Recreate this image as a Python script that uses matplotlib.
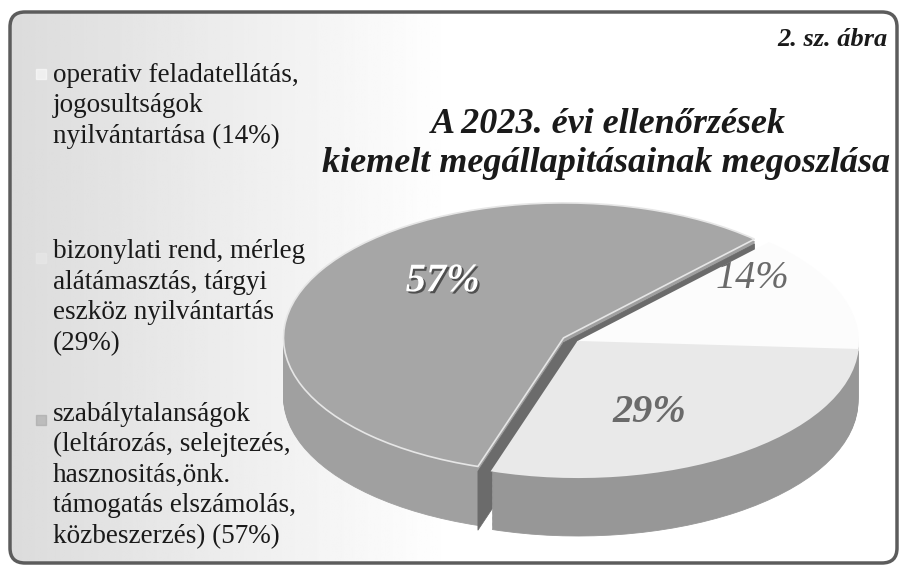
import numpy as np
import matplotlib.pyplot as plt
from matplotlib.patches import FancyBboxPatch, Polygon
from matplotlib import patheffects as pe

plt.rcParams['font.family'] = ['Liberation Serif', 'DejaVu Serif']

# adatok
kategoriak = [
    "operativ feladatellátás,\njogosultságok\nnyilvántartása (14%)",
    "bizonylati rend, mérleg\nalátámasztás, tárgyi\neszköz nyilvántartás\n(29%)",
    "szabálytalanságok\n(leltározás, selejtezés,\nhasznositás,önk.\ntámogatás elszámolás,\nközbeszerzés) (57%)",
]
aranyok = [14, 29, 57]
feliratok = ["14%", "29%", "57%"]
cim1 = "A 2023. évi ellenőrzések"
cim2 = "kiemelt megállapitásainak megoszlása"
abra = "2. sz. ábra"

teteje = ["#fcfcfc", "#e9e9e9", "#a6a6a6"]
oldala = ["#9c9c9c", "#979797", "#a0a0a0"]
kiemeles = [0, 0, 0.06]

W, H = 903, 570
fig = plt.figure(figsize=(W / 100, H / 100), dpi=100)

# hatter + keret (pixel koordinatak)
bg = fig.add_axes([0, 0, 1, 1])
bg.set_xlim(0, W)
bg.set_ylim(H, 0)
bg.axis('off')
keret = FancyBboxPatch((10, 12), 887, 551, boxstyle="round,pad=0,rounding_size=15",
                       fc='none', ec='#5c5c5c', lw=2.5, zorder=5)
bg.add_patch(keret)
g = np.clip(np.linspace(0, 1, 400) / 0.5, 0, 1)
im = bg.imshow(np.tile(0.86 + 0.14 * g, (2, 1)), cmap='gray', vmin=0, vmax=1,
               extent=(10, 897, 563, 12), aspect='auto', zorder=0)
im.set_clip_path(keret)

# jelmagyarazat
for i, (szoveg, y_alap, y_jel) in enumerate(zip(kategoriak, [143, 350, 543], [74, 258, 420])):
    bg.text(53, y_alap, szoveg, fontsize=19.5, va='baseline', ha='left',
            linespacing=1.29, color='#1a1a1a', zorder=6)
    bg.scatter([41], [y_jel], marker='s', s=45, color=teteje[i], alpha=0.6, zorder=6)

# 3D kordiagram
ax = fig.add_axes([0, 0, 1, 1])
ax.patch.set_alpha(0)
cx, cy = 578, 342
a, b = 280, 135
vastag = 59 / b
kezdo = 47
retegek = np.linspace(-vastag, 0, 50)[:-2]


def kor(z, szinek, mutat, el=None, lw=0.6):
    w, _ = ax.pie(aranyok, explode=kiemeles, colors=szinek, startangle=kezdo,
                  counterclock=False, center=(0, z), labeldistance=None,
                  wedgeprops=dict(linewidth=lw))
    for i, ek in enumerate(w):
        ek.set_visible(i in mutat)
        ek.set_edgecolor(el if el else ek.get_facecolor())
    return w


# 57% szelet
for z in retegek:
    w = kor(z, oldala, [2])
ek = w[2]
c = np.array(ek.center) + [0, retegek[-1]]
for th in (ek.theta1, ek.theta2):
    p = c + ek.r * np.array([np.cos(np.radians(th)), np.sin(np.radians(th))])
    ax.add_patch(Polygon([c, p, p - [0, vastag], c - [0, vastag]], closed=True,
                         fc='#6b6b6b', ec='#6b6b6b', lw=0.5))
teto57 = kor(0, teteje, [2], el='#e6e6e6', lw=1.2)[2]

# 14% + 29%
for z in retegek:
    kor(z, oldala, [0, 1])
teto = kor(0, teteje, [0, 1], lw=1.5)

ax.set_aspect('auto')
ax.set_xlim(-cx / a, (W - cx) / a)
ax.set_ylim(-(H - cy) / b, cy / b)
ax.axis('off')

# szazalekok
hely = {0: (0.78, 37), 1: (0.58, -64), 2: (0.6, 136)}
for i, t in enumerate(feliratok):
    r, sz = hely[i]
    kp = np.array(teto57.center if i == 2 else teto[i].center)
    x, y = kp + r * np.array([np.cos(np.radians(sz)), np.sin(np.radians(sz))])
    if i == 2:
        ax.text(x, y, t, fontsize=29, fontweight='bold', style='italic', color='white',
                ha='center', va='center',
                path_effects=[pe.SimplePatchShadow(offset=(1.5, -1.5), shadow_rgbFace='#3a3a3a', alpha=0.8),
                              pe.Normal()])
    else:
        ax.text(x, y, t, fontsize=29, fontweight='bold' if i == 1 else 'normal',
                style='italic', color='#6a6a6a', ha='center', va='center')

# cim
bg.text(608, 133, cim1, fontsize=26, fontweight='bold', style='italic',
        ha='center', va='baseline', color='#1a1a1a', zorder=6)
bg.text(606, 172, cim2, fontsize=26, fontweight='bold', style='italic',
        ha='center', va='baseline', color='#1a1a1a', zorder=6)
bg.text(888, 46, abra, fontsize=19, fontweight='bold', style='italic',
        ha='right', va='baseline', color='#1a1a1a', zorder=6)

fig.savefig('out.png', dpi=100)
